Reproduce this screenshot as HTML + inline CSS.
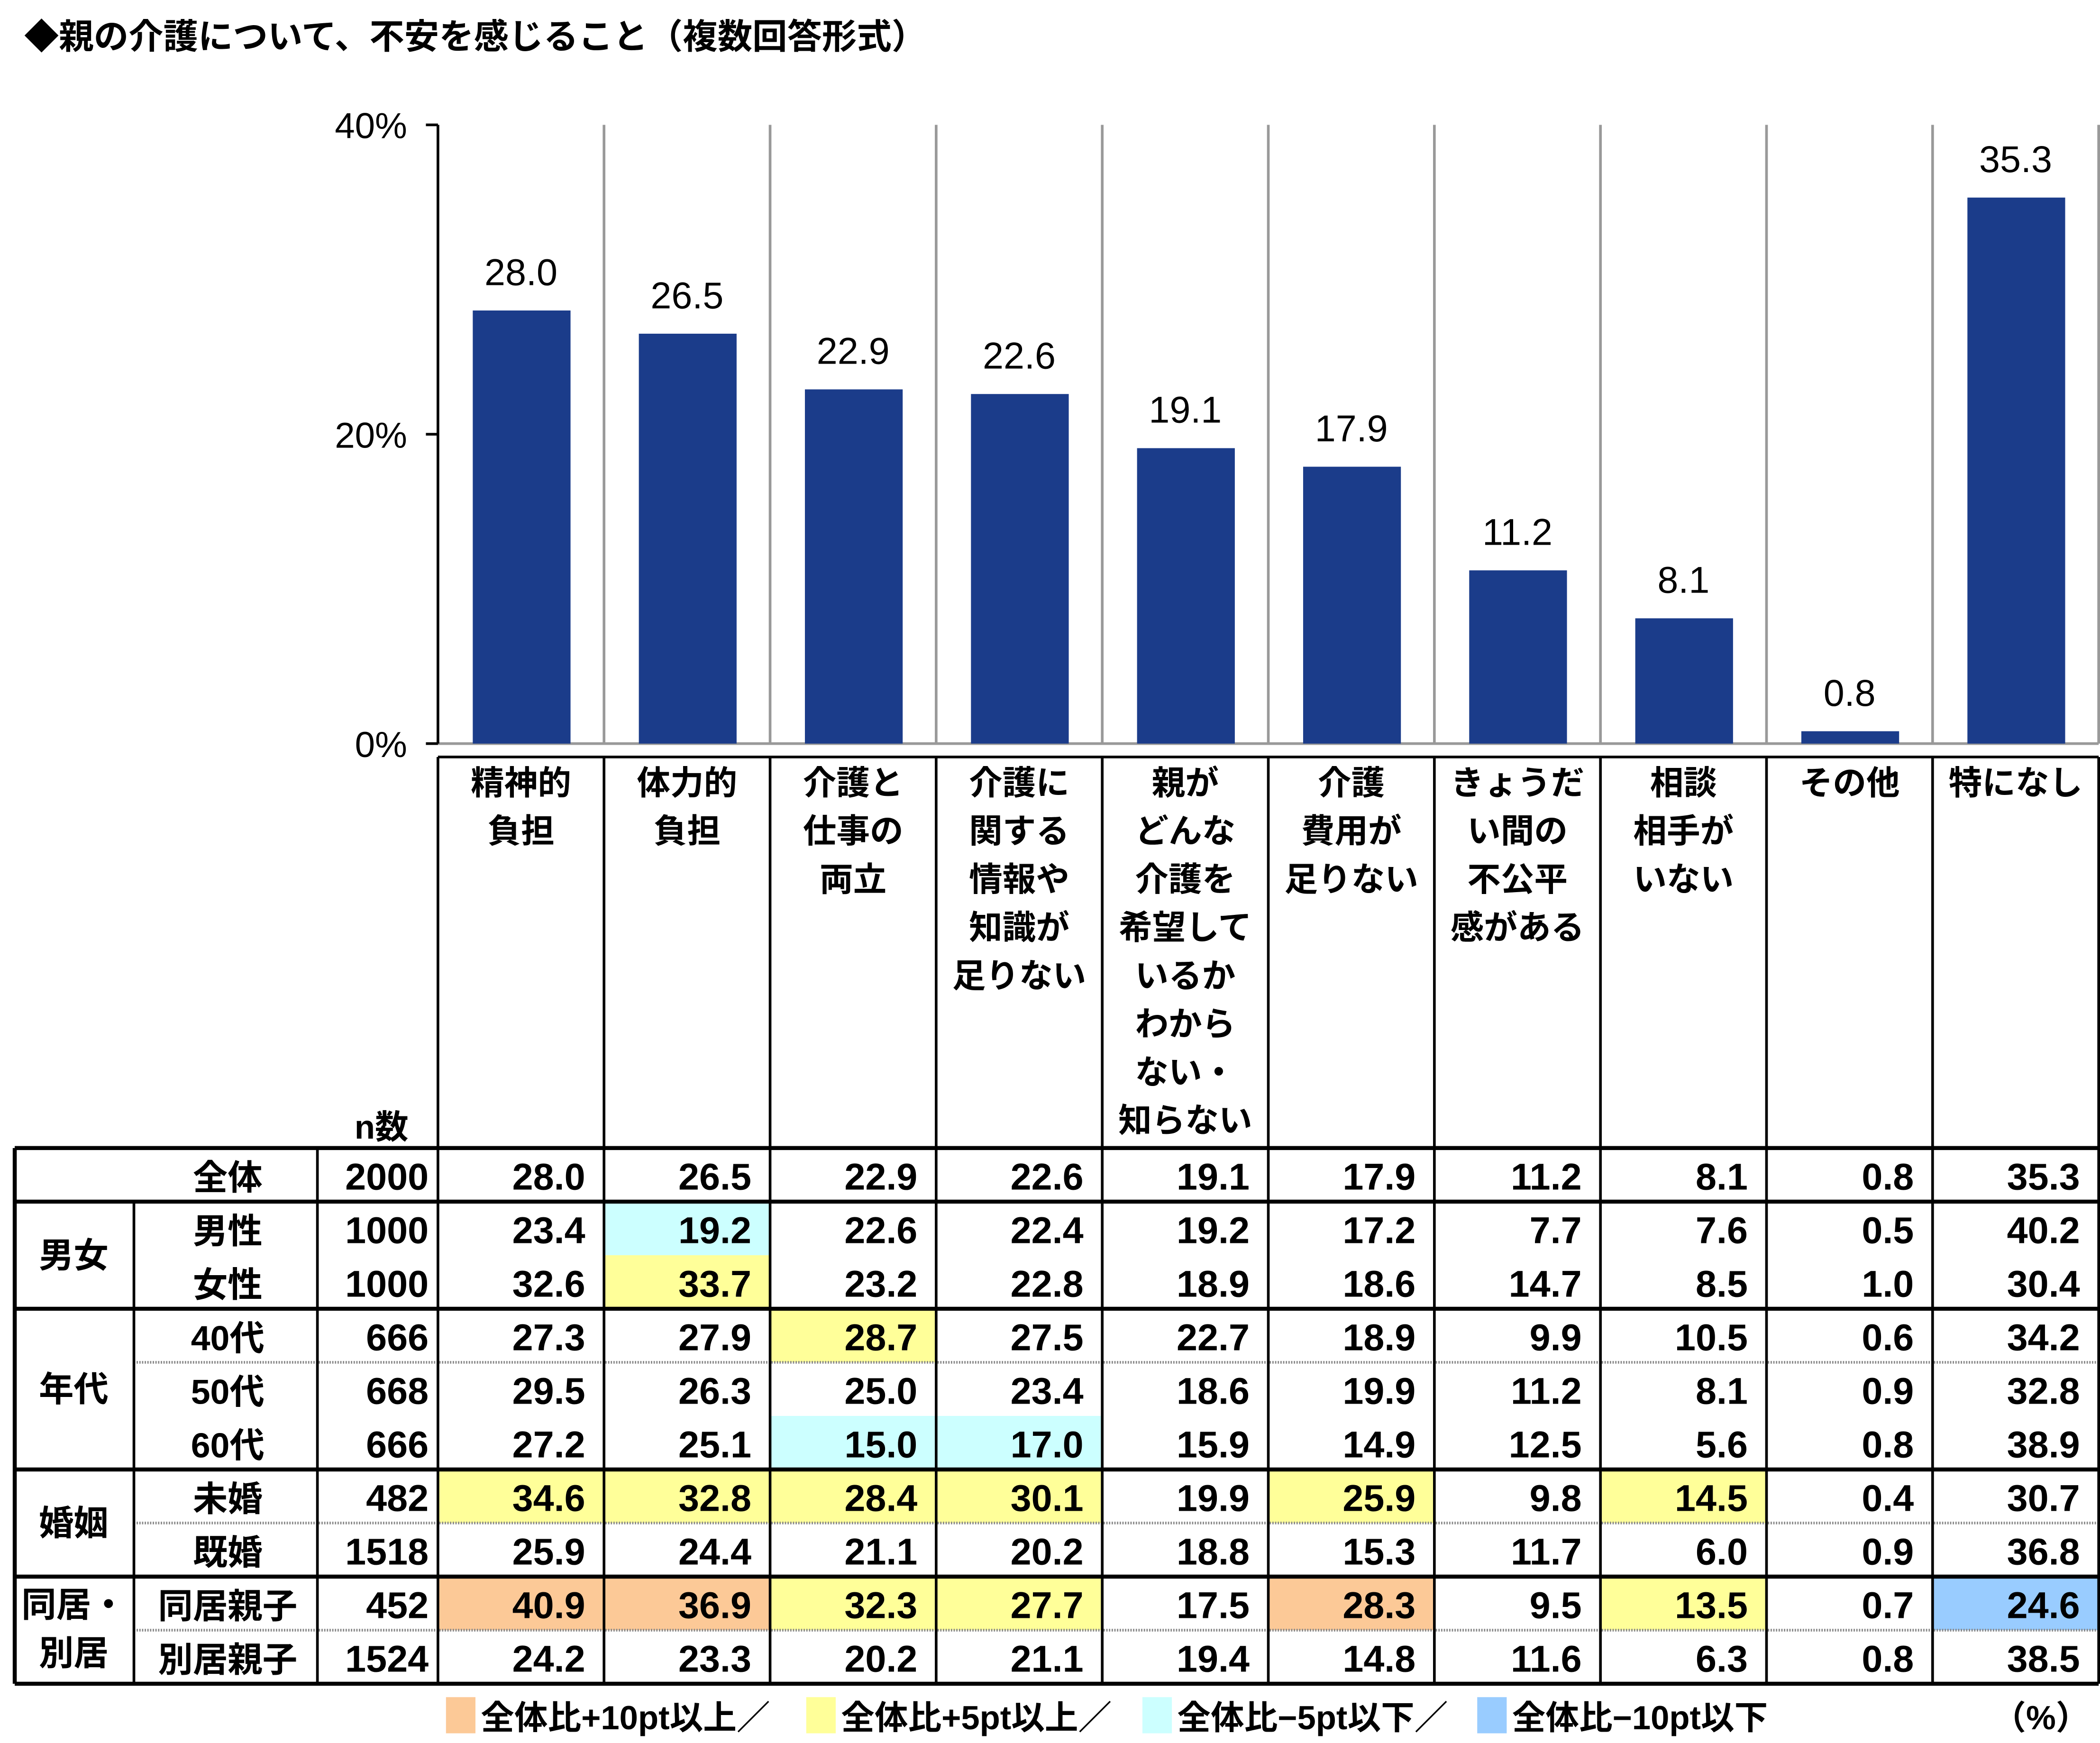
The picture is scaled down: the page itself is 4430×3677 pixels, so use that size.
<!DOCTYPE html>
<html><head><meta charset="utf-8"><style>html,body{margin:0;padding:0;background:#fff}svg{display:block}text{font-family:"Liberation Sans","Noto Sans CJK JP",sans-serif}</style></head>
<body>
<svg id="s" xmlns="http://www.w3.org/2000/svg" width="4430" height="3677" viewBox="0 0 1568 1301">
<rect width="1568" height="1301" fill="#fff"/>
<text x="18" y="36" font-size="26" font-weight="bold">◆親の介護について、不安を感じること（複数回答形式）</text>
</svg>
<script>
(function(){
var s=document.getElementById('s'),NS='http://www.w3.org/2000/svg';
function el(t,a,txt){var e=document.createElementNS(NS,t);for(var k in a)e.setAttribute(k,a[k]);if(txt!=null)e.textContent=txt;s.appendChild(e);return e;}
var X0=327,W=124;
function cx(i){return X0+W*i;}
var cats=[["精神的","負担"],["体力的","負担"],["介護と","仕事の","両立"],["介護に","関する","情報や","知識が","足りない"],["親が","どんな","介護を","希望して","いるか","わから","ない・","知らない"],["介護","費用が","足りない"],["きょうだ","い間の","不公平","感がある"],["相談","相手が","いない"],["その他"],["特になし"]];
var tot=[28.0,26.5,22.9,22.6,19.1,17.9,11.2,8.1,0.8,35.3];
for(var i=1;i<=10;i++)el('line',{x1:cx(i),y1:93,x2:cx(i),y2:555,stroke:'#999','stroke-width':2});
el('line',{x1:X0,y1:555,x2:1567,y2:555,stroke:'#999','stroke-width':2});
el('line',{x1:X0,y1:93,x2:X0,y2:555,stroke:'#000','stroke-width':2});
[[93,'40%'],[324,'20%'],[555,'0%']].forEach(function(t){el('line',{x1:318,y1:t[0],x2:X0,y2:t[0],stroke:'#000','stroke-width':2});el('text',{x:304,y:t[0]+10,'font-size':27,'text-anchor':'end'},t[1]);});
tot.forEach(function(v,i){var top=555-v*11.55;el('rect',{x:cx(i)+26,y:top,width:73,height:555-top,fill:'#1B3C8A'});el('text',{x:cx(i)+62,y:top-19,'font-size':28,'text-anchor':'middle'},v.toFixed(1));});
el('line',{x1:X0,y1:565,x2:1567,y2:565,stroke:'#000','stroke-width':2});
for(var i=0;i<=10;i++)el('line',{x1:cx(i),y1:565,x2:cx(i),y2:857,stroke:'#000','stroke-width':2});
cats.forEach(function(c,i){c.forEach(function(l,j){el('text',{x:cx(i)+62,y:593+36*j,'font-size':25,'font-weight':'bold','text-anchor':'middle'},l);});});
el('text',{x:305,y:850,'font-size':25,'font-weight':'bold','text-anchor':'end'},'n数');
var rows=[["全体",2000,tot],["男性",1000,[23.4,19.2,22.6,22.4,19.2,17.2,7.7,7.6,0.5,40.2]],["女性",1000,[32.6,33.7,23.2,22.8,18.9,18.6,14.7,8.5,1.0,30.4]],["40代",666,[27.3,27.9,28.7,27.5,22.7,18.9,9.9,10.5,0.6,34.2]],["50代",668,[29.5,26.3,25.0,23.4,18.6,19.9,11.2,8.1,0.9,32.8]],["60代",666,[27.2,25.1,15.0,17.0,15.9,14.9,12.5,5.6,0.8,38.9]],["未婚",482,[34.6,32.8,28.4,30.1,19.9,25.9,9.8,14.5,0.4,30.7]],["既婚",1518,[25.9,24.4,21.1,20.2,18.8,15.3,11.7,6.0,0.9,36.8]],["同居親子",452,[40.9,36.9,32.3,27.7,17.5,28.3,9.5,13.5,0.7,24.6]],["別居親子",1524,[24.2,23.3,20.2,21.1,19.4,14.8,11.6,6.3,0.8,38.5]]];
var O='#FCC997',Y='#FFFF99',C='#CCFFFF',B='#99CCFF';
var hl={"1,1":C,"2,1":Y,"3,2":Y,"5,2":C,"5,3":C,"6,0":Y,"6,1":Y,"6,2":Y,"6,3":Y,"6,5":Y,"6,7":Y,"8,0":O,"8,1":O,"8,2":Y,"8,3":Y,"8,5":O,"8,7":Y,"8,9":B};
var T=857,H=40;
for(var k in hl){var p=k.split(',');el('rect',{x:cx(+p[1]),y:T+H*p[0],width:W,height:H,fill:hl[k]});}
rows.forEach(function(r,ri){var y=T+H*ri+31;
el('text',{x:170,y:y,'font-size':26,'font-weight':'bold','text-anchor':'middle'},r[0]);
el('text',{x:320,y:y,'font-size':28,'font-weight':'bold','text-anchor':'end'},String(r[1]));
r[2].forEach(function(v,i){el('text',{x:cx(i+1)-14,y:y,'font-size':28,'font-weight':'bold','text-anchor':'end'},v.toFixed(1));});});
[2,4,5,8,10].forEach(function(r){el('line',{x1:100,y1:T+H*(r-1),x2:1567,y2:T+H*(r-1),stroke:'#888','stroke-width':2,'stroke-dasharray':'1,1'});});
[0,1,3,6,8,10].forEach(function(r){el('line',{x1:11,y1:T+H*r,x2:1567,y2:T+H*r,stroke:'#000','stroke-width':3});});
el('line',{x1:11,y1:T,x2:11,y2:T+400,stroke:'#000','stroke-width':3});
el('line',{x1:100,y1:T+H,x2:100,y2:T+400,stroke:'#000','stroke-width':2});
el('line',{x1:237,y1:T,x2:237,y2:T+400,stroke:'#000','stroke-width':2});
for(var i=0;i<=10;i++)el('line',{x1:cx(i),y1:T,x2:cx(i),y2:T+400,stroke:'#000','stroke-width':2});
[["男女",937],["年代",1037],["婚姻",1137]].forEach(function(g){el('text',{x:55,y:g[1]+9,'font-size':26,'font-weight':'bold','text-anchor':'middle'},g[0]);});
el('text',{x:55,y:1207,'font-size':26,'font-weight':'bold','text-anchor':'middle'},'同居・');
el('text',{x:55,y:1243,'font-size':26,'font-weight':'bold','text-anchor':'middle'},'別居');
var lx=333,items=[[O,'全体比+10pt以上／'],[Y,'全体比+5pt以上／'],[C,'全体比−5pt以下／'],[B,'全体比−10pt以下']];
var wids=[269,251,250,220];
items.forEach(function(it,i){el('rect',{x:lx,y:1267,width:22,height:27,fill:it[0]});el('text',{x:lx+26,y:1291,'font-size':25,'font-weight':'bold'},it[1]);lx+=wids[i];});
el('text',{x:1560,y:1291,'font-size':25,'font-weight':'bold','text-anchor':'end'},'（%）');
})();
</script>
</body></html>
